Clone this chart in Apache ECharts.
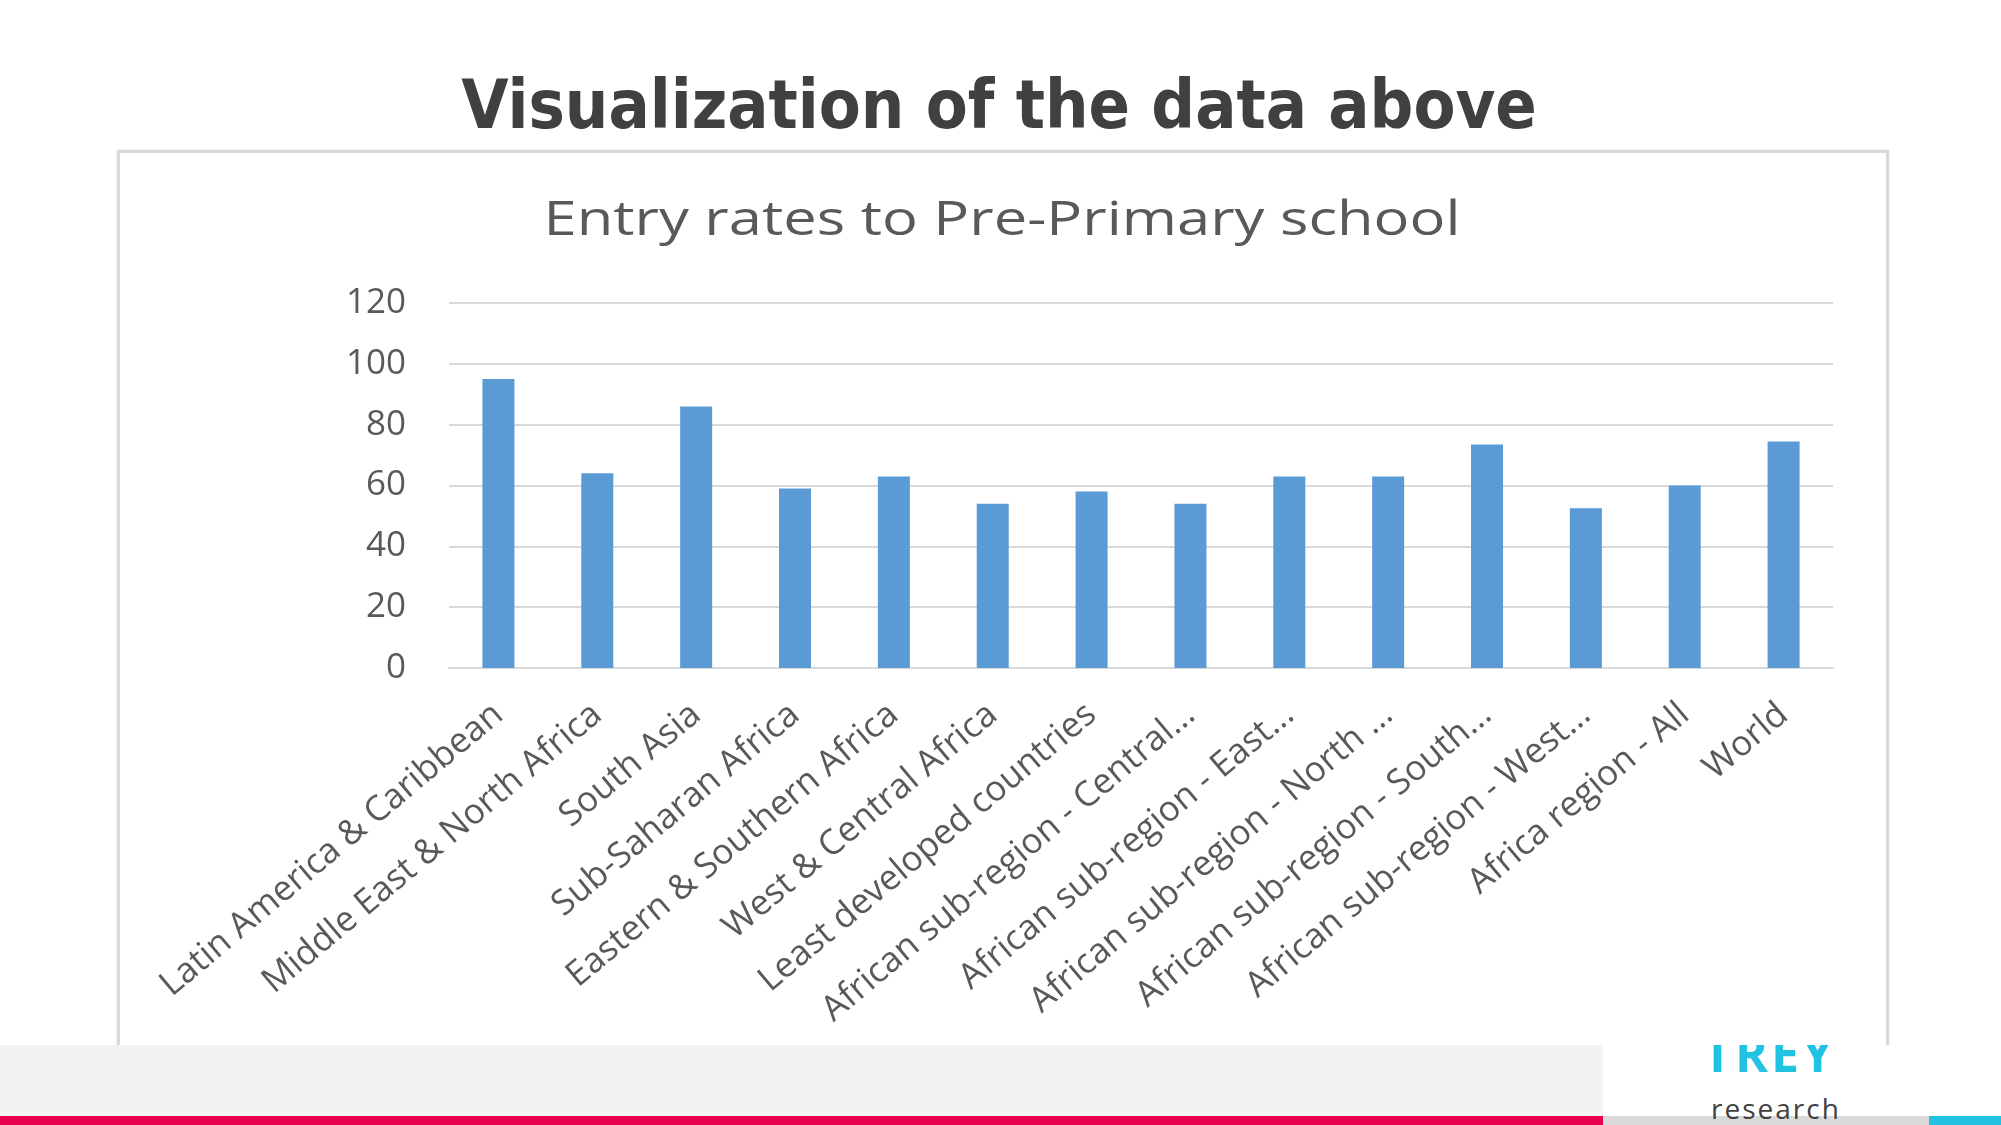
<!DOCTYPE html>
<html>
<head>
<meta charset="utf-8">
<script src="https://cdn.jsdelivr.net/npm/echarts@6/dist/echarts.min.js"></script>
<style>
  html, body { margin: 0; padding: 0; background: #ffffff; }
  #page { position: relative; width: 2001px; height: 1125px; overflow: hidden; background: #ffffff; }
  .abs { position: absolute; }
  #box { left: 117px; top: 150px; width: 1766px; height: 1000px; border: 3px solid #d9d9d9; box-shadow: 0 0 3px rgba(0,0,0,0.12); background: #fff; z-index: 1; }
  #chart { left: 0; top: 0; width: 2001px; height: 1125px; z-index: 5; }
</style>
</head>
<body>
<div id="page">
  <div id="box" class="abs"></div>
  <div class="abs" style="left:0;top:1045px;width:1603px;height:71px;background:#f2f2f2;z-index:3"></div>
  <div class="abs" style="left:0;top:1116px;width:1603px;height:9px;background:#e8004f;z-index:3"></div>
  <div class="abs" style="left:1603px;top:1045px;width:398px;height:71px;background:#ffffff;overflow:hidden;z-index:3">
    <div class="abs" style="left:100px;top:-17px;font:bold 50px 'Open Sans';line-height:50px;letter-spacing:3px;color:#22c3e2;white-space:nowrap">TREY</div>
  </div>
  <div class="abs" style="left:1603px;top:1116px;width:326px;height:9px;background:#d9d9d9;z-index:3"></div>
  <div class="abs" style="left:1929px;top:1116px;width:72px;height:9px;background:#22c3e2;z-index:3"></div>
  <div class="abs" style="left:1711px;top:1094px;font:28px 'Open Sans';line-height:28px;letter-spacing:2px;color:#404040;white-space:nowrap;z-index:4">research</div>
  <div id="chart" class="abs"></div>
</div>
<script>
const pageTitle = 'Visualization of the data above';
const chartTitle = 'Entry rates to Pre-Primary school';
const categories = [
  'Latin America & Caribbean',
  'Middle East & North Africa',
  'South Asia',
  'Sub-Saharan Africa',
  'Eastern & Southern Africa',
  'West & Central Africa',
  'Least developed countries',
  'African sub-region - Central...',
  'African sub-region - East...',
  'African sub-region - North ...',
  'African sub-region - South...',
  'African sub-region - West...',
  'Africa region - All',
  'World'
];
const entryRates = [95, 64, 86, 59, 63, 54, 58, 54, 63, 63, 73.5, 52.5, 60, 74.5];
const yMin = 0;
const yMax = 120;
const yStep = 20;

const chart = echarts.init(document.getElementById('chart'), null, { renderer: 'canvas' });
chart.setOption({
  backgroundColor: 'transparent',
  animation: false,
  graphic: [
    {
      type: 'text', x: 999, y: 110, scaleX: 0.9,
      style: { text: pageTitle, font: 'bold 68px "DejaVu Sans"', fill: '#404040', align: 'center', verticalAlign: 'middle' }
    },
    {
      type: 'text', x: 1002, y: 222, scaleX: 1.27,
      style: { text: chartTitle, font: '47px "Open Sans"', fill: '#595959', align: 'center', verticalAlign: 'middle' }
    }
  ],
  grid: { left: 449, right: 168, top: 303, bottom: 457, containLabel: false, outerBoundsMode: 'none' },
  xAxis: {
    type: 'category',
    data: categories,
    axisLine: { show: true, lineStyle: { color: '#d9d9d9', width: 2 } },
    axisTick: { show: false },
    axisLabel: {
      interval: 0, rotate: 40, margin: 42,
      color: '#595959', fontFamily: 'Open Sans', fontSize: 35
    }
  },
  yAxis: {
    type: 'value',
    min: yMin, max: yMax, interval: yStep,
    axisLine: { show: false },
    axisTick: { show: false },
    axisLabel: { color: '#595959', fontFamily: 'Open Sans', fontSize: 35, margin: 43 },
    splitLine: { show: true, lineStyle: { color: '#d9d9d9', width: 2 } }
  },
  series: [{
    type: 'bar',
    data: entryRates,
    barWidth: 32,
    itemStyle: { color: '#5b9bd5' }
  }]
});
</script>
</body>
</html>
